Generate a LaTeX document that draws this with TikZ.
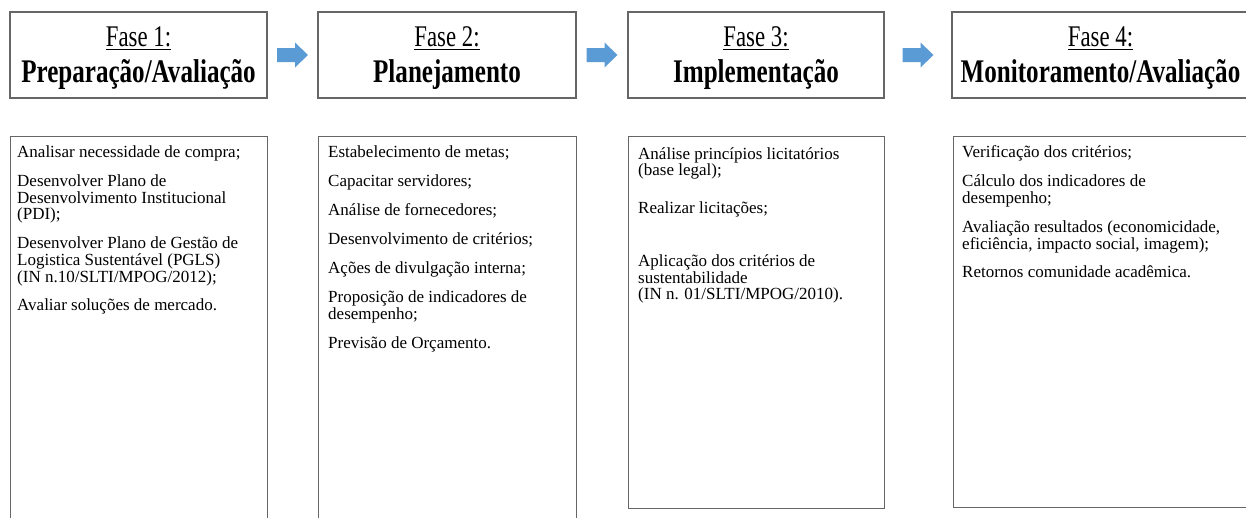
\documentclass[tikz,border=0pt]{standalone}
\usepackage{fontspec}
\setmainfont{Liberation Serif}
\newfontfamily\headfont[FakeStretch=0.76]{Liberation Serif}
\usetikzlibrary{calc}
\definecolor{arrowblue}{HTML}{5B9BD5}
\definecolor{boxgray}{HTML}{666666}
\newcommand{\mylistfont}{\fontsize{17}{16.7}\selectfont\setlength{\lineskiplimit}{-30pt}\setlength{\lineskip}{0pt}}
\newcommand{\myheadfont}{\headfont\fontsize{33}{36}\selectfont\setlength{\lineskiplimit}{-30pt}\setlength{\lineskip}{0pt}}
\newcommand{\fasefont}{\fontsize{30}{36}\selectfont}
\begin{document}
\begin{tikzpicture}[x=1pt,y=-1pt,
  headbox/.style={draw=boxgray, line width=1.4pt, minimum height=86pt, inner sep=0pt},
  headtext/.style={inner sep=0pt, align=center, font=\myheadfont},
  listbox/.style={draw=boxgray, line width=1.3pt, inner sep=0pt, anchor=north west},
  listtext/.style={anchor=north west, inner sep=0pt, align=left, font=\mylistfont},
  blockarrow/.style={fill=arrowblue, draw=none}
]
\useasboundingbox (0,0) rectangle (1246,517);
\clip (0,0) rectangle (1246,517);
\fill[white] (0,0) rectangle (1246,517);

% header boxes
\node[headbox, minimum width=257pt] (h1) at (138.5,55) {};
\node[headbox, minimum width=258pt] (h2) at (447,55) {};
\node[headbox, minimum width=256pt] (h3) at (756,55) {};
\node[headbox, minimum width=306pt] (h4) at (1105,55) {};

\node[headtext] (h1t) at ([yshift=-3.5pt]h1.center)
  {{\fasefont\underline{Fase 1:}}\\\textbf{Preparação/Avaliação}};
\node[headtext] (h2t) at ([yshift=-3.5pt]h2.center)
  {{\fasefont\underline{Fase 2:}}\\\textbf{Planejamento}};
\node[headtext] (h3t) at ([yshift=-3.5pt]h3.center)
  {{\fasefont\underline{Fase 3:}}\\\textbf{Implementação}};
\node[headtext] (h4t) at ([xshift=-4.5pt,yshift=-3.5pt]h4.center)
  {{\fasefont\underline{Fase 4:}}\\\textbf{Monitoramento/Avaliação}};

% block arrows between header boxes
\foreach \a/\b/\n in {h1/h2/a1, h2/h3/a2, h3/h4/a3}{
  \coordinate (\n) at ($(\a.east)!0.5!(\b.west)$);
  \fill[blockarrow] ([shift={(-15.5,-7)}]\n) -- ([shift={(2.5,-7)}]\n)
    -- ([shift={(2.5,-12.5)}]\n) -- ([shift={(15.5,0)}]\n)
    -- ([shift={(2.5,12.5)}]\n) -- ([shift={(2.5,7)}]\n)
    -- ([shift={(-15.5,7)}]\n) -- cycle;
}

% list boxes
\node[listbox, minimum width=257pt, minimum height=400pt] (b1) at (10,136) {};
\node[listbox, minimum width=258pt, minimum height=400pt] (b2) at (318,136) {};
\node[listbox, minimum width=256pt, minimum height=372pt] (b3) at (628,136) {};
\node[listbox, minimum width=310pt, minimum height=371pt] (b4) at (953,136) {};

\node[listtext] (t1) at ([xshift=7pt,yshift=-5pt]b1.north west)
  {\rule{0pt}{16pt}Analisar necessidade de compra;\\[12.6pt]
   Desenvolver Plano de\\
   Desenvolvimento Institucional\\
   (PDI);\\[12pt]
   Desenvolver Plano de Gestão de\\
   Logistica Sustentável (PGLS)\\
   (IN n.10/SLTI/MPOG/2012);\\[12pt]
   Avaliar soluções de mercado.};

\node[listtext] (t2) at ([xshift=10pt,yshift=-5pt]b2.north west)
  {\rule{0pt}{16pt}Estabelecimento de metas;\\[12.4pt]
   Capacitar servidores;\\[12.4pt]
   Análise de fornecedores;\\[12.4pt]
   Desenvolvimento de critérios;\\[12.4pt]
   Ações de divulgação interna;\\[12.4pt]
   Proposição de indicadores de\\
   desempenho;\\[12.4pt]
   Previsão de Orçamento.};

\node[listtext] (t3) at ([xshift=10pt,yshift=-7pt]b3.north west)
  {\rule{0pt}{16pt}Análise princípios licitatórios\\
   (base legal);\\[20.5pt]
   Realizar licitações;\\[36.5pt]
   Aplicação dos critérios de\\
   sustentabilidade\\
   (IN n. 01/SLTI/MPOG/2010).};

\node[listtext] (t4) at ([xshift=9pt,yshift=-5pt]b4.north west)
  {\rule{0pt}{16pt}Verificação dos critérios;\\[13pt]
   Cálculo dos indicadores de\\
   desempenho;\\[12.5pt]
   Avaliação resultados (economicidade,\\
   eficiência, impacto social, imagem);\\[11.5pt]
   Retornos comunidade acadêmica.};
\end{tikzpicture}
\end{document}
